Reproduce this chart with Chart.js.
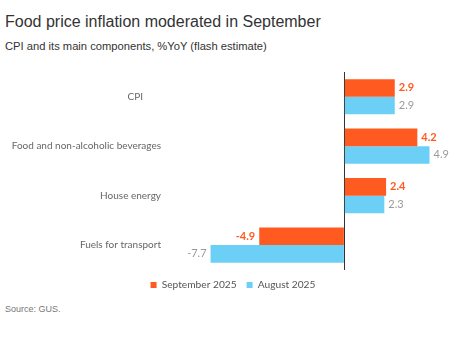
<!DOCTYPE html>
<html><head><meta charset="utf-8">
<script src="https://cdn.jsdelivr.net/npm/chart.js@4/dist/chart.umd.min.js"></script>
<style>
body{margin:0;background:#fff;width:466px;height:352px;position:relative;overflow:hidden;font-family:"Liberation Sans",Arial,sans-serif;}
#title{position:absolute;left:5px;top:13.5px;font-size:16px;line-height:1;color:#333;white-space:nowrap;}
#sub{position:absolute;left:5px;top:40.5px;font-size:11.2px;line-height:1;color:#333;white-space:nowrap;}
#src{position:absolute;left:5px;top:304.5px;font-size:9px;line-height:1;color:#777;white-space:nowrap;}
#wrap{position:absolute;left:0;top:60px;width:466px;height:240px;}
</style></head><body>
<div id="title">Food price inflation moderated in September</div>
<div id="sub">CPI and its main components, %YoY (flash estimate)</div>
<div id="wrap"><canvas id="c"></canvas></div>
<div id="src">Source: GUS.</div>
<script>
const categories = ["CPI", "Food and non-alcoholic beverages", "House energy", "Fuels for transport"];
const seriesNames = ["September 2025", "August 2025"];
const sep2025 = [2.9, 4.2, 2.4, -4.9];
const aug2025 = [2.9, 4.9, 2.3, -7.7];

const ORANGE = '#ff5a1f';
const BLUE = '#6ccff6';

const valueLabels = {
  id: 'valueLabels',
  afterDatasetsDraw(chart) {
    const ctx = chart.ctx;
    chart.data.datasets.forEach((ds, i) => {
      const meta = chart.getDatasetMeta(i);
      meta.data.forEach((bar, j) => {
        const v = ds.data[j];
        ctx.save();
        ctx.font = (i === 0 ? 'bold ' : '') + '11px Lato';
        ctx.fillStyle = i === 0 ? ORANGE : '#9a9a9a';
        ctx.textBaseline = 'middle';
        if (v >= 0) { ctx.textAlign = 'left'; ctx.fillText(v.toFixed(1), bar.x + 4, bar.y); }
        else { ctx.textAlign = 'right'; ctx.fillText(v.toFixed(1), bar.x - 4, bar.y); }
        ctx.restore();
      });
    });
  }
};

new Chart(document.getElementById('c'), {
  type: 'bar',
  data: {
    labels: categories,
    datasets: [
      { label: seriesNames[0], data: sep2025, backgroundColor: ORANGE, barPercentage: 1, categoryPercentage: 0.71 },
      { label: seriesNames[1], data: aug2025, backgroundColor: BLUE, barPercentage: 1, categoryPercentage: 0.71 }
    ]
  },
  options: {
    indexAxis: 'y',
    responsive: true,
    maintainAspectRatio: false,
    animation: false,
    layout: { padding: { top: 12, right: 0, left: 0, bottom: 0 } },
    plugins: {
      tooltip: { enabled: false },
      legend: {
        position: 'bottom',
        labels: { boxWidth: 6, boxHeight: 6, color: '#555', font: { family: 'Lato', size: 10.2 }, padding: 10 }
      }
    },
    scales: {
      x: {
        min: -9.92, max: 7.0,
        ticks: { display: false, stepSize: 1 },
        border: { display: false },
        grid: { drawTicks: false, color: c => (c.tick && Math.abs(c.tick.value) < 1e-9) ? '#333' : 'rgba(0,0,0,0)', lineWidth: 1 }
      },
      y: {
        grid: { display: false, drawTicks: false },
        border: { display: false },
        ticks: {
          color: '#666', font: { family: 'Lato', size: 10 }, padding: 11,
          callback: (v, i) => i === 0 ? categories[i] + '       ' : categories[i]
        },
        afterFit: s => { s.width = 172; s.paddingTop = 0; s.paddingBottom = 0; }
      }
    }
  },
  plugins: [valueLabels]
});
</script>
</body></html>
